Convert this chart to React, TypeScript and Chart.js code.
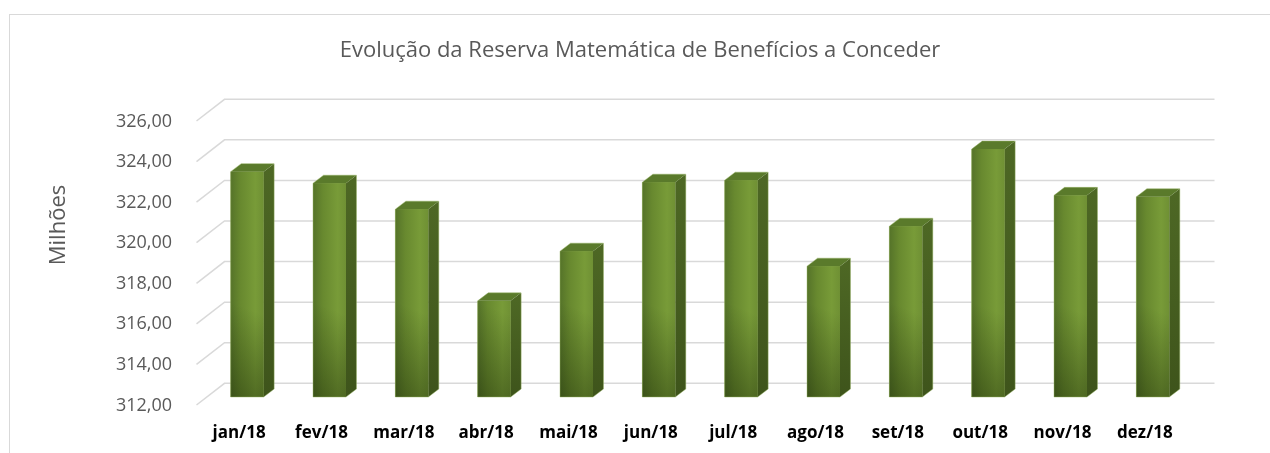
import { useEffect, useRef } from 'react';
import { Chart, registerables } from 'chart.js';

Chart.register(...registerables);

const categories = ['jan/18', 'fev/18', 'mar/18', 'abr/18', 'mai/18', 'jun/18', 'jul/18', 'ago/18', 'set/18', 'out/18', 'nov/18', 'dez/18'];
const values = [323.11, 322.54, 321.26, 316.74, 319.19, 322.59, 322.69, 318.45, 320.42, 324.22, 321.94, 321.87];
const yTicks = [312, 314, 316, 318, 320, 322, 324, 326];
const titleText = 'Evolução da Reserva Matemática de Benefícios a Conceder';
const yTitleText = 'Milhões';

const FONT = '"Open Sans", "Noto Sans", sans-serif';
// perspective offsets (relative to bar plane)
const FX = 9.5, FY = 8; // front plane
const BX = 18.5, BY = -13.7; // back wall
const DX = 10.5, DY = -8; // bar depth

const excel3d = {
  id: 'excel3d',
  beforeDraw(chart: any) {
    const ctx = chart.ctx;
    ctx.save();
    ctx.fillStyle = '#ffffff';
    ctx.fillRect(0, 0, chart.width, chart.height);
    ctx.strokeStyle = '#d9d9d9';
    ctx.lineWidth = 1;
    ctx.strokeRect(9.5, 14.5, chart.width + 20, chart.height + 20);
    ctx.restore();
  },
  beforeDatasetsDraw(chart: any) {
    const { ctx, chartArea } = chart;
    const ys = chart.scales.y;
    ctx.save();
    ctx.strokeStyle = '#d9d9d9';
    ctx.lineWidth = 1.5;
    ys.ticks.forEach((t: any) => {
      const py = ys.getPixelForValue(t.value);
      ctx.beginPath();
      ctx.moveTo(chartArea.left - FX, py + FY);
      ctx.lineTo(chartArea.left + BX, py + BY);
      ctx.lineTo(chartArea.right + BX + 2, py + BY);
      ctx.stroke();
    });
    // y axis title
    ctx.fillStyle = '#595959';
    ctx.font = `22px ${FONT}`;
    ctx.textAlign = 'center';
    ctx.textBaseline = 'middle';
    ctx.translate(58.5, 225);
    ctx.rotate(-Math.PI / 2);
    ctx.fillText(yTitleText, 0, 0);
    ctx.restore();
  },
  afterDatasetsDraw(chart: any) {
    const ctx = chart.ctx;
    const meta = chart.getDatasetMeta(0);
    meta.data.forEach((bar: any) => {
      const { x, y, base, width } = bar.getProps(['x', 'y', 'base', 'width'], true);
      const l = x - width / 2;
      const r = x + width / 2;
      ctx.save();
      // side face
      const sg = ctx.createLinearGradient(0, y, 0, base);
      sg.addColorStop(0, '#4d6724');
      sg.addColorStop(1, '#3e541b');
      ctx.fillStyle = sg;
      ctx.beginPath();
      ctx.moveTo(r, y);
      ctx.lineTo(r + DX, y + DY);
      ctx.lineTo(r + DX, base + DY);
      ctx.lineTo(r, base);
      ctx.closePath();
      ctx.fill();
      // top face
      ctx.fillStyle = '#5a7a2b';
      ctx.beginPath();
      ctx.moveTo(l, y);
      ctx.lineTo(l + DX, y + DY);
      ctx.lineTo(r + DX, y + DY);
      ctx.lineTo(r, y);
      ctx.closePath();
      ctx.fill();
      // front face
      const g = ctx.createLinearGradient(l, 0, r, 0);
      g.addColorStop(0, '#557329');
      g.addColorStop(0.3, '#68892f');
      g.addColorStop(0.75, '#789b38');
      g.addColorStop(1, '#6f9034');
      ctx.fillStyle = g;
      ctx.fillRect(l, y, width, base - y);
      const d = ctx.createLinearGradient(l, base, r, base - 2.5 * width);
      d.addColorStop(0, 'rgba(25,40,5,0.45)');
      d.addColorStop(1, 'rgba(25,40,5,0)');
      ctx.fillStyle = d;
      ctx.fillRect(l, y, width, base - y);
      // faint edges
      ctx.strokeStyle = 'rgba(150,180,100,0.45)';
      ctx.lineWidth = 1;
      ctx.beginPath();
      ctx.moveTo(l, base);
      ctx.lineTo(l, y);
      ctx.lineTo(l + DX, y + DY);
      ctx.lineTo(r + DX, y + DY);
      ctx.lineTo(r + DX, base + DY);
      ctx.lineTo(r, base);
      ctx.closePath();
      ctx.stroke();
      ctx.restore();
    });
  },
};

export default function App() {
  const ref = useRef<HTMLCanvasElement | null>(null);
  useEffect(() => {
    if (!ref.current) return;
    const chart = new Chart(ref.current, {
      type: 'bar',
      data: {
        labels: categories,
        datasets: [
          {
            data: values,
            base: yTicks[0],
            backgroundColor: '#6a8b30',
            borderWidth: 0,
            barPercentage: 0.4,
            categoryPercentage: 1,
          },
        ],
      },
      options: {
        animation: false,
        responsive: false,
        devicePixelRatio: 1,
        layout: { padding: { left: 86, right: 76, top: 0, bottom: 0 } },
        plugins: {
          legend: { display: false },
          tooltip: { enabled: false },
          title: {
            display: true,
            text: titleText,
            color: '#595959',
            font: { family: FONT, size: 22, weight: 'normal', lineHeight: 1.2 },
            padding: { top: 37.8, bottom: 48.8 },
          },
        },
        scales: {
          x: {
            grid: { display: false, drawTicks: false },
            border: { display: false },
            ticks: {
              color: '#000000',
              font: { family: FONT, size: 17, weight: 'bold', lineHeight: 1.2 },
              padding: 25.8,
              labelOffset: -8,
              maxRotation: 0,
            },
            afterFit: (s: any) => { s.height = 56; },
          },
          y: {
            min: 312,
            max: 326,
            grid: { display: false, drawTicks: false },
            border: { display: false },
            afterBuildTicks: (s: any) => { s.ticks = yTicks.map((v) => ({ value: v })); },
            ticks: {
              color: '#595959',
              font: { family: FONT, size: 18, lineHeight: 1.2 },
              padding: 34,
              labelOffset: 8.5,
              callback: (v: any) => Number(v).toFixed(2).replace('.', ','),
            },
            afterFit: (s: any) => { s.width = 120; },
          },
        },
      },
      plugins: [excel3d],
    });
    return () => chart.destroy();
  }, []);
  return (
    <div style={{ position: 'fixed', left: 0, top: 0, width: 1270, height: 453 }}>
      <canvas ref={ref} width={1270} height={453} style={{ width: 1270, height: 453, display: 'block' }} />
    </div>
  );
}
